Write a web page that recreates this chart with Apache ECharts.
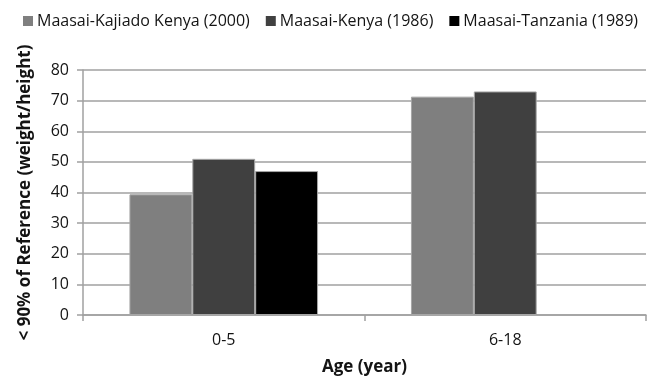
<!DOCTYPE html>
<html>
<head>
<meta charset="utf-8">
<script src="https://cdn.jsdelivr.net/npm/echarts@6/dist/echarts.min.js"></script>
<style>
  html, body { margin: 0; padding: 0; background: #fff; }
  #chart { width: 655px; height: 387px; }
</style>
</head>
<body>
<div id="chart"></div>
<script>
// Age groups on the x axis
const categories = ['0-5', '6-18'];
// Share of children below 90% of reference (weight/height), per survey
const kajiado2000 = [39.4, 71.3];
const kenya1986 = [51, 73];
const tanzania1989 = [47, null];
const seriesNames = ['Maasai-Kajiado Kenya (2000)', 'Maasai-Kenya (1986)', 'Maasai-Tanzania (1989)'];
const yTicks = [0, 10, 20, 30, 40, 50, 60, 70, 80];

const FONT = 'Open Sans';
const TEXT = '#141414';
const colors = ['#7f7f7f', '#404040', '#000000'];

const chart = echarts.init(document.getElementById('chart'));

function barSeries(name, data, color) {
  return {
    name: name,
    type: 'bar',
    data: data,
    barGap: '0%',
    barCategoryGap: '33%',
    itemStyle: { color: color, borderColor: '#a6a6a6', borderWidth: 1 }
  };
}

chart.setOption({
  animation: false,
  textStyle: { fontFamily: FONT },
  legend: {
    top: 8,
    left: 18,
    itemWidth: 10,
    itemHeight: 10,
    itemGap: 16,
    icon: 'rect',
    itemStyle: { borderWidth: 0 },
    textStyle: { fontFamily: FONT, fontSize: 16, color: TEXT, padding: [0, 0, 0, -1] },
    data: seriesNames
  },
  grid: { left: 83, right: 9, top: 70, bottom: 72 },
  xAxis: {
    type: 'category',
    data: categories,
    name: 'Age (year)',
    nameLocation: 'middle',
    nameGap: 44,
    nameTextStyle: { fontFamily: FONT, fontSize: 17, fontWeight: 'bold', color: TEXT },
    axisLine: { lineStyle: { color: '#a0a0a0', width: 1.5 } },
    axisTick: { show: true, length: 6, lineStyle: { color: '#a0a0a0', width: 1.5 } },
    axisLabel: { fontFamily: FONT, fontSize: 16, color: TEXT, margin: 17 }
  },
  yAxis: {
    type: 'value',
    min: yTicks[0],
    max: yTicks[yTicks.length - 1],
    interval: 10,
    name: '< 90% of Reference (weight/height)',
    nameLocation: 'middle',
    nameGap: 49,
    nameTextStyle: { fontFamily: FONT, fontSize: 17, fontWeight: 'bold', color: TEXT },
    axisLine: { show: true, lineStyle: { color: '#a0a0a0', width: 1.5 } },
    axisTick: { show: true, length: 6, lineStyle: { color: '#a0a0a0', width: 1.5 } },
    splitLine: { lineStyle: { color: '#a0a0a0', width: 1.5 } },
    axisLabel: { fontFamily: FONT, fontSize: 16, color: TEXT, margin: 14 }
  },
  series: [
    barSeries(seriesNames[0], kajiado2000, colors[0]),
    barSeries(seriesNames[1], kenya1986, colors[1]),
    barSeries(seriesNames[2], tanzania1989, colors[2])
  ]
});
</script>
</body>
</html>
